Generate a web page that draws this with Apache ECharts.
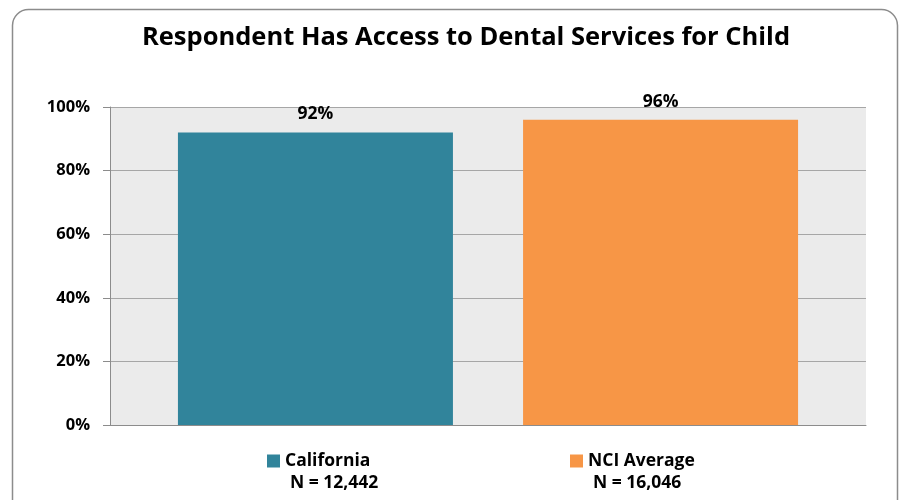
<!DOCTYPE html>
<html>
<head>
<meta charset="utf-8">
<script src="https://cdn.jsdelivr.net/npm/echarts@6/dist/echarts.min.js"></script>
<style>html,body{margin:0;padding:0;background:#fff}#c{width:900px;height:500px}</style>
</head>
<body>
<div id="c"></div>
<script>
const titleText = 'Respondent Has Access to Dental Services for Child';
const seriesNames = ['California', 'NCI Average'];
const seriesValues = [92, 96];
const sampleSizes = ['N = 12,442', 'N = 16,046'];
const seriesColors = ['#31849b', '#f79646'];
const yTicks = [0, 20, 40, 60, 80, 100];

const FONT = '"Open Sans", sans-serif';
const chart = echarts.init(document.getElementById('c'));

const legendLefts = [262, 565];
const legends = seriesNames.map((name, i) => ({
  data: [name],
  left: legendLefts[i],
  top: 447,
  icon: 'rect',
  itemWidth: 13,
  itemHeight: 13,
  itemGap: 6,
  selectedMode: false,
  formatter: n => '{a|' + n + '}\n{b|' + sampleSizes[seriesNames.indexOf(n)] + '}',
  textStyle: {
    padding: [22, 0, 0, 0],
    rich: {
      a: {fontFamily: FONT, fontWeight: 'bold', fontSize: 17.5, color: '#000', lineHeight: 22},
      b: {fontFamily: FONT, fontWeight: 'bold', fontSize: 17.5, color: '#000', lineHeight: 22, padding: [0, 0, 0, 5]}
    }
  }
}));

chart.setOption({
  animation: false,
  title: {
    text: titleText,
    left: 461, textAlign: 'center', top: 20,
    textStyle: {fontFamily: FONT, fontWeight: 'bold', fontSize: 25.5, color: '#000'}
  },
  graphic: [{
    type: 'rect', left: 10, top: 7,
    shape: {width: 885, height: 510, r: 16},
    style: {fill: 'none', stroke: '#8c8c8c', lineWidth: 1.5},
    silent: true, z: -10
  }],
  legend: legends,
  grid: {left: 110, right: 34, top: 107, bottom: 75, show: true, backgroundColor: '#ebebeb', borderWidth: 0},
  xAxis: {
    type: 'category', data: [''],
    axisLine: {lineStyle: {color: '#8c8c8c'}},
    axisTick: {show: false}, axisLabel: {show: false}
  },
  yAxis: {
    type: 'value', min: 0, max: 100, interval: 20,
    axisLine: {show: true, lineStyle: {color: '#8c8c8c'}},
    axisTick: {show: true, length: 7, lineStyle: {color: '#8c8c8c'}},
    splitLine: {lineStyle: {color: '#a6a6a6'}},
    axisLabel: {
      margin: 20, formatter: v => yTicks.includes(v) ? v + '%' : '',
      fontFamily: FONT, fontWeight: 'bold', fontSize: 16.5, color: '#000'
    }
  },
  series: seriesNames.map((name, i) => ({
    type: 'bar', name: name,
    data: [seriesValues[i]],
    barWidth: 275, barGap: '25.5%',
    itemStyle: {color: seriesColors[i]},
    label: {
      show: true, position: 'top', distance: 9,
      formatter: p => p.value + '%',
      fontFamily: FONT, fontWeight: 'bold', fontSize: 17.5, color: '#000'
    }
  }))
});
</script>
</body>
</html>
